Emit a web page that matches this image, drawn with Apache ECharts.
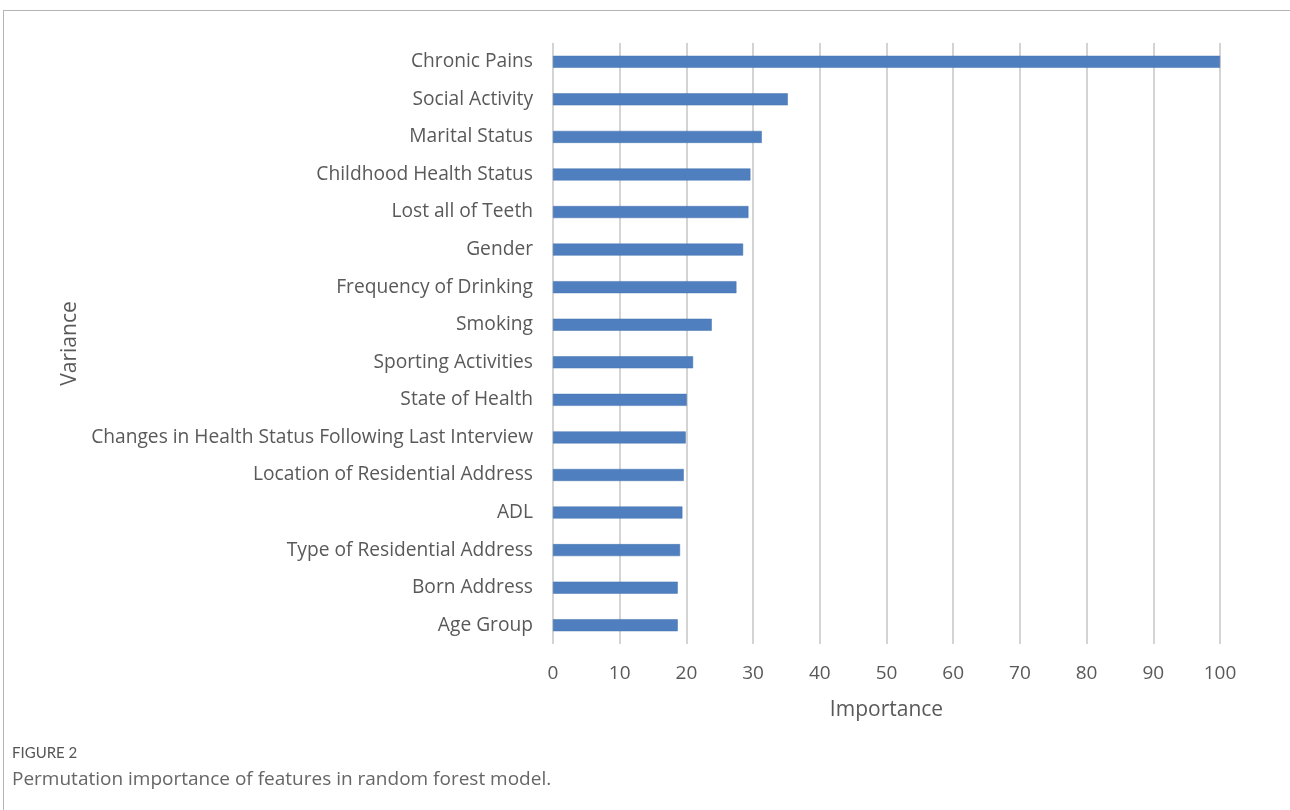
<!DOCTYPE html>
<html>
<head>
<meta charset="utf-8">
<script src="https://cdn.jsdelivr.net/npm/echarts@6/dist/echarts.min.js"></script>
<style>
  html, body { margin: 0; padding: 0; background: #fff; }
  #frame {
    position: absolute; left: 3px; top: 10px; width: 1300px; height: 820px;
    border-top: 1px solid #b5b5b5; border-left: 1px solid #b5b5b5;
  }
  #chart { position: absolute; left: 0; top: 0; width: 1290px; height: 810px; }
</style>
</head>
<body>
<div id="frame"></div>
<div id="chart"></div>
<script>
const features = [
  'Chronic Pains',
  'Social Activity',
  'Marital Status',
  'Childhood Health Status',
  'Lost all of Teeth',
  'Gender',
  'Frequency of Drinking',
  'Smoking',
  'Sporting Activities',
  'State of Health',
  'Changes in Health Status Following Last Interview',
  'Location of Residential Address',
  'ADL',
  'Type of Residential Address',
  'Born Address',
  'Age Group'
]
const importance = [100, 35.2, 31.3, 29.6, 29.3, 28.5, 27.5, 23.8, 21.0, 20.05, 19.9, 19.6, 19.4, 19.05, 18.7, 18.7]

const chart = echarts.init(document.getElementById('chart'))

chart.setOption({
  animation: false,
  textStyle: { fontFamily: 'Open Sans' },
  grid: {
    left: 553,
    right: 70,
    top: 43,
    bottom: 166,
  },
  xAxis: {
    type: 'value',
    min: 0,
    max: 100,
    interval: 10,
    name: 'Importance',
    nameLocation: 'middle',
    nameGap: 56,
    nameTextStyle: { color: '#595959', fontSize: 21 },
    axisLine: { show: false },
    axisTick: { show: false },
    axisLabel: { color: '#595959', fontSize: 19, margin: 20 },
    splitLine: { lineStyle: { color: '#d4d4d4', width: 2 } },
  },
  yAxis: {
    type: 'category',
    data: features,
    inverse: true,
    name: 'Variance',
    nameLocation: 'middle',
    nameRotate: 90,
    nameGap: 472,
    nameTextStyle: { color: '#595959', fontSize: 21 },
    axisLine: { show: false },
    axisTick: { show: false },
    axisLabel: { color: '#595959', fontSize: 19.2, margin: 20 },
  },
  graphic: [
    {
      type: 'text',
      left: 12,
      top: 746,
      style: { text: 'FIGURE 2', fill: '#555', fontSize: 15, fontFamily: 'Lato' },
    },
    {
      type: 'text',
      left: 12,
      top: 770,
      style: {
        text: 'Permutation importance of features in random forest model.',
        fill: '#666',
        fontSize: 19,
        fontFamily: 'Open Sans',
      },
    },
  ],
  series: [
    {
      type: 'bar',
      data: importance,
      barWidth: 12,
      itemStyle: { color: '#4f7fbf', borderColor: '#4473b0', borderWidth: 0.5 },
    },
  ],
})
</script>
</body>
</html>
